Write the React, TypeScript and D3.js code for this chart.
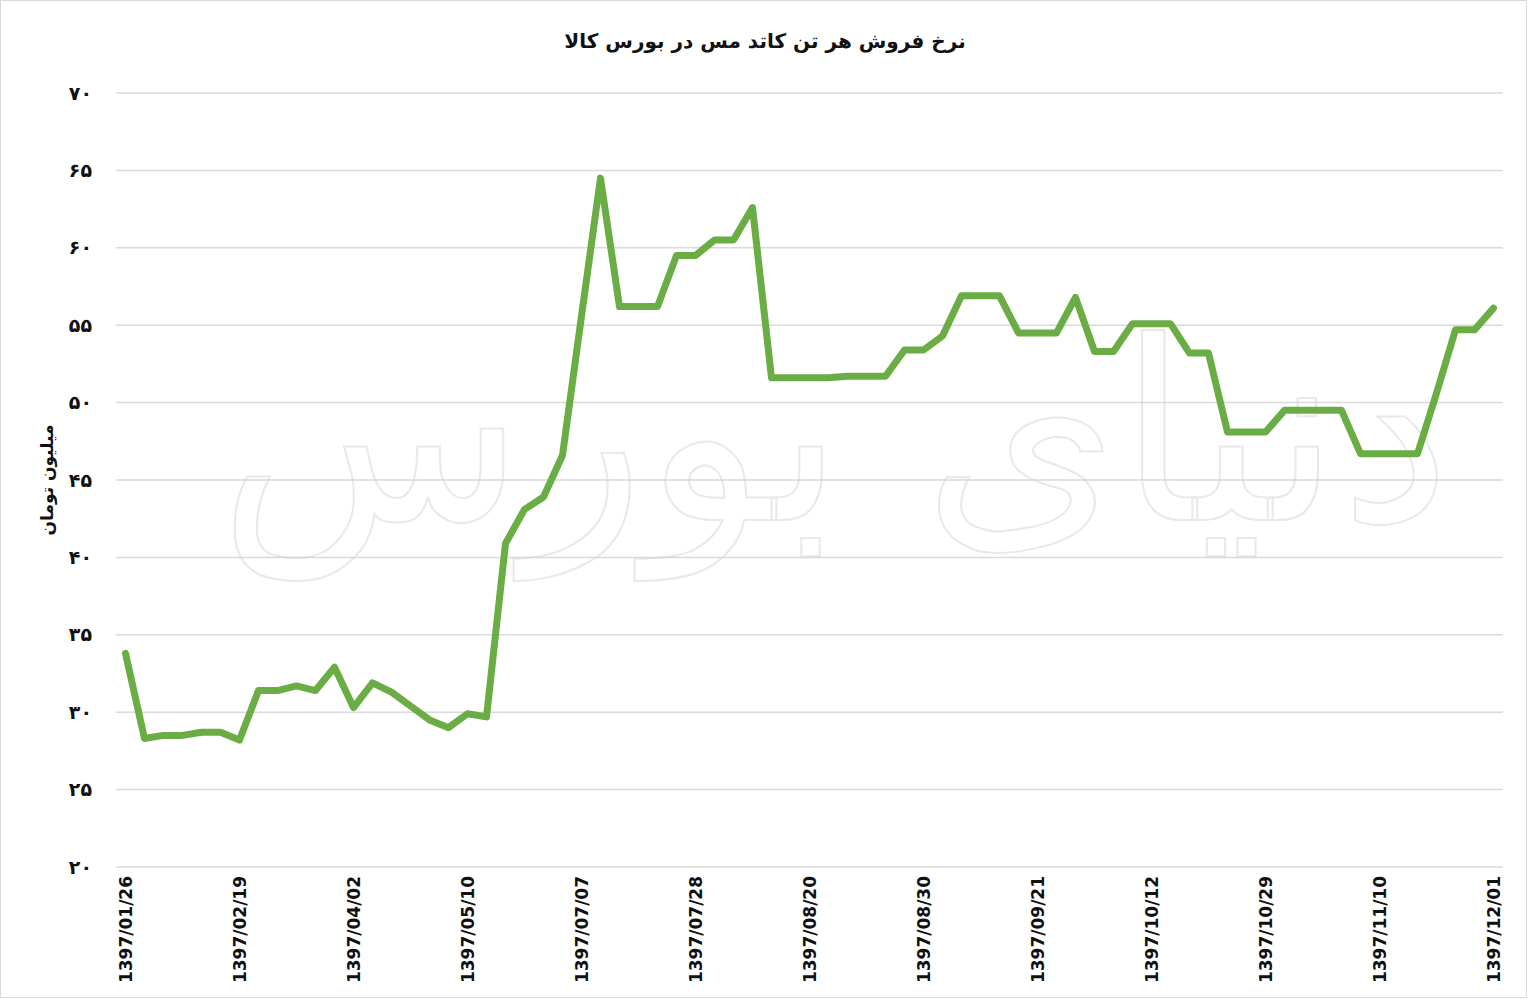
import { useEffect, useRef } from "react";
import * as d3 from "d3";

// price per ton of copper cathode, million toman
const prices = [
    33.8, 28.3, 28.5, 28.5, 28.7, 28.7, 28.2, 31.4, 31.4, 31.7,
    31.4, 32.9, 30.3, 31.9, 31.3, 30.4, 29.5, 29.0, 29.9, 29.7,
    40.9, 43.1, 43.9, 46.6, 55.6, 64.5, 56.2, 56.2, 56.2, 59.5,
    59.5, 60.5, 60.5, 62.6, 51.6, 51.6, 51.6, 51.6, 51.7, 51.7,
    51.7, 53.4, 53.4, 54.3, 56.9, 56.9, 56.9, 54.5, 54.5, 54.5,
    56.8, 53.3, 53.3, 55.1, 55.1, 55.1, 53.2, 53.2, 48.1, 48.1,
    48.1, 49.5, 49.5, 49.5, 49.5, 46.7, 46.7, 46.7, 46.7, 50.6,
    54.7, 54.7, 56.1,
];

// only every sixth date is printed on the axis
const dateLabels = [
    "1397/01/26", "1397/02/19", "1397/04/02", "1397/05/10", "1397/07/07",
    "1397/07/28", "1397/08/20", "1397/08/30", "1397/09/21", "1397/10/12",
    "1397/10/29", "1397/11/10", "1397/12/01",
];
const labelStep = 6;

const yTicks = [20, 25, 30, 35, 40, 45, 50, 55, 60, 65, 70];
const yTickLabels = ["۲۰", "۲۵", "۳۰", "۳۵", "۴۰", "۴۵", "۵۰", "۵۵", "۶۰", "۶۵", "۷۰"];

const title = "نرخ فروش هر تن کاتد مس در بورس کالا";
const yTitle = "میلیون تومان";
const watermark = "دنیای بورس";

const App = () => {
    const chartRef = useRef<SVGSVGElement | null>(null);

    useEffect(() => {
        if (!chartRef.current) return;
        d3.select(chartRef.current).selectAll("*").remove();

        const width = 1528;
        const height = 999;
        const margin = { top: 93, right: 25, bottom: 132, left: 116 };
        const font = "'DejaVu Sans', sans-serif";

        const svg = d3.select(chartRef.current)
            .attr("width", width)
            .attr("height", height);

        svg.append("rect")
            .attr("x", 0.5).attr("y", 0.5)
            .attr("width", width - 2).attr("height", height - 2)
            .attr("fill", "#fff")
            .attr("stroke", "#d9d9d9");

        const idx = prices.map((_, i) => i);
        const x = d3.scalePoint<number>()
            .domain(idx)
            .range([margin.left, width - margin.right])
            .padding(0.5);

        const y = d3.scaleLinear()
            .domain([20, 70])
            .range([height - margin.bottom, margin.top]);

        // grid
        svg.append("g")
            .selectAll("line")
            .data(yTicks)
            .enter().append("line")
            .attr("x1", margin.left)
            .attr("x2", width - margin.right)
            .attr("y1", d => y(d))
            .attr("y2", d => y(d))
            .attr("stroke", "#d9d9d9")
            .attr("stroke-width", 1.5);

        // y tick labels
        svg.append("g")
            .selectAll("text")
            .data(yTicks)
            .enter().append("text")
            .attr("x", 92)
            .attr("y", d => y(d))
            .attr("dy", "0.35em")
            .attr("text-anchor", "end")
            .attr("font-family", font)
            .attr("font-weight", "bold")
            .attr("font-size", 19)
            .attr("fill", "#111")
            .text((_, i) => yTickLabels[i]);

        // watermark
        svg.append("text")
            .attr("x", 835)
            .attr("y", 520)
            .attr("text-anchor", "middle")
            .attr("direction", "rtl")
            .attr("font-family", font)
            .attr("font-size", 250)
            .attr("fill", "none")
            .attr("stroke", "#cfcfcf")
            .attr("stroke-width", 2)
            .attr("opacity", 0.45)
            .text(watermark);

        // x labels
        svg.append("g")
            .selectAll("text")
            .data(dateLabels)
            .enter().append("text")
            .attr("transform", (_, i) => `translate(${(x(i * labelStep) as number) + 6},${height - margin.bottom + 9}) rotate(-90)`)
            .attr("text-anchor", "end")
            .attr("font-family", font)
            .attr("font-weight", "bold")
            .attr("font-size", 17)
            .attr("fill", "#111")
            .text(d => d);

        // line
        const line = d3.line<number>()
            .x((_, i) => x(i) as number)
            .y(d => y(d));

        svg.append("path")
            .datum(prices)
            .attr("d", line)
            .attr("fill", "none")
            .attr("stroke", "#6aad45")
            .attr("stroke-width", 7)
            .attr("stroke-linejoin", "round")
            .attr("stroke-linecap", "round");

        // titles
        svg.append("text")
            .attr("x", 765)
            .attr("y", 48)
            .attr("text-anchor", "middle")
            .attr("direction", "rtl")
            .attr("font-family", font)
            .attr("font-weight", "bold")
            .attr("font-size", 20)
            .attr("fill", "#111")
            .text(title);

        svg.append("text")
            .attr("transform", "translate(53,480) rotate(-90)")
            .attr("text-anchor", "middle")
            .attr("direction", "rtl")
            .attr("font-family", font)
            .attr("font-weight", "bold")
            .attr("font-size", 17)
            .attr("fill", "#111")
            .text(yTitle);
    }, []);

    return (
        <div style={{ position: "absolute", left: 0, top: 0 }}>
            <svg ref={chartRef} style={{ display: "block" }}></svg>
        </div>
    );
};

export default App;
